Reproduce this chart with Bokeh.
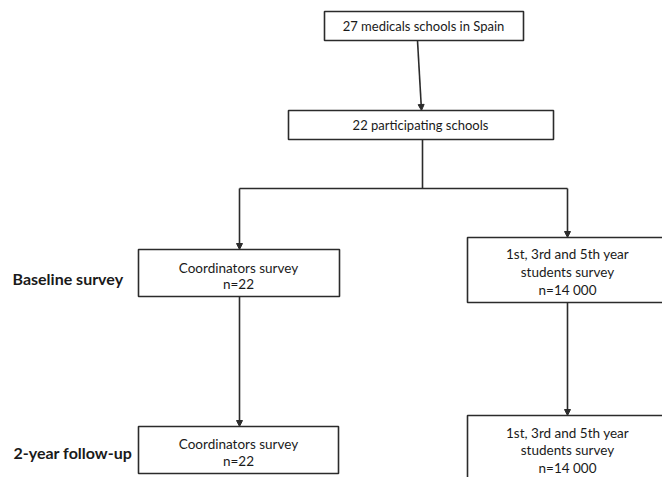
from bokeh.plotting import figure
from bokeh.models import Range1d, Arrow, NormalHead
from bokeh.core.properties import value
from bokeh.embed import file_html
from bokeh.resources import INLINE

# ---- chart content ----
total_schools = 27
participating_schools = 22
stage_labels = ["Baseline survey", "2-year follow-up"]
coordinators_n = [22, 22]
students_n = ["14 000", "14 000"]
student_years = "1st, 3rd and 5th year"

# ---- layout (page pixel coords, y grows downward) ----
FONT = "Lato"
LINE = "#2b2b2b"
TEXT = "#1a1a1a"

boxes = {
    "top": dict(l=324, r=523, t=11, b=40),
    "part": dict(l=288, r=553, t=110, b=139),
    "c0": dict(l=138, r=339, t=249, b=296),
    "s0": dict(l=467, r=720, t=237, b=302),
    "c1": dict(l=138, r=338, t=426, b=473),
    "s1": dict(l=467, r=720, t=415, b=540),
}

W, H = 662, 477
p = figure(width=W, height=H, output_backend="svg", toolbar_location=None,
           x_range=Range1d(0, W), y_range=Range1d(H, 0),
           min_border=0, tools="")
p.axis.visible = False
p.grid.visible = False
p.outline_line_color = None
p.background_fill_color = "white"

# connectors first
p.segment(x0=[422, 239], y0=[139, 188], x1=[422, 567], y1=[188, 188],
          line_color=LINE, line_width=1.6)

def arrow(x0, y0, x1, y1):
    p.add_layout(Arrow(end=NormalHead(size=6, fill_color=LINE, line_color=LINE),
                       x_start=x0, y_start=y0, x_end=x1, y_end=y1,
                       line_color=LINE, line_width=1.6))

arrow(417, 40, 421, 110)
arrow(239, 188, 239, 249)
arrow(567, 188, 567, 237)
arrow(239, 296, 239, 426)
arrow(567, 302, 567, 415)

# boxes
keys = list(boxes)
p.quad(left=[boxes[k]["l"] for k in keys], right=[boxes[k]["r"] for k in keys],
       top=[boxes[k]["t"] for k in keys], bottom=[boxes[k]["b"] for k in keys],
       fill_color="white", line_color=LINE, line_width=1.6)

# top box texts
p.text(x=[423, 420], y=[25.5, 124.5],
       text=[f"{total_schools} medicals schools in Spain",
             f"{participating_schools} participating schools"],
       text_font=value(FONT), text_font_size="13px",
       text_color=TEXT, text_align="center", text_baseline="middle")

# survey box texts
tx, ty, tt = [], [], []
coord_y = [(267, 283), (443, 460)]
for i, n in enumerate(coordinators_n):
    tx += [238, 238]; ty += list(coord_y[i]); tt += ["Coordinators survey", f"n={n}"]
stud_y = [(253, 271, 289), (432, 449, 467)]
for i, n in enumerate(students_n):
    tx += [567] * 3; ty += list(stud_y[i])
    tt += [student_years, "students survey", f"n={n}"]

p.text(x=tx, y=ty, text=tt, text_font=value(FONT), text_font_size="13.5px",
       text_color=TEXT, text_align="center", text_baseline="middle")

# stage labels
p.text(x=[12, 13], y=[278, 452], text=stage_labels, text_font=value(FONT),
       text_font_size="16px", text_font_style="bold", text_color=TEXT,
       text_align="left", text_baseline="middle")

open("out.html", "w").write(file_html(p, INLINE))
